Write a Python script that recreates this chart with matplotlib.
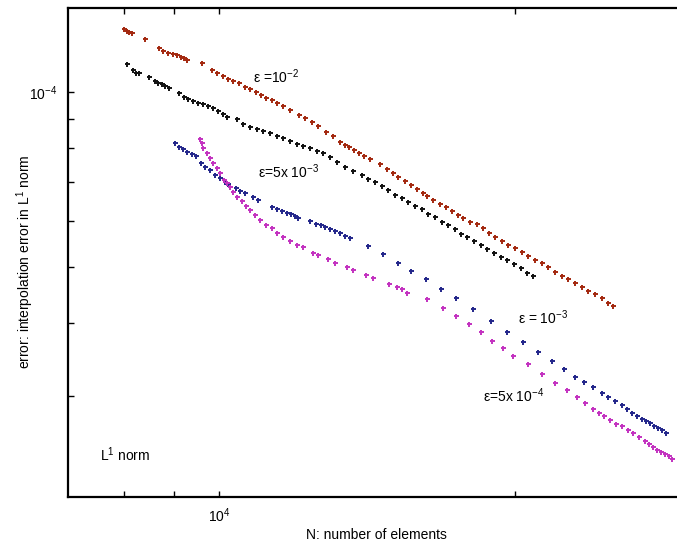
import numpy as np
import matplotlib
matplotlib.use("Agg")
import matplotlib.pyplot as plt
from matplotlib.ticker import FixedLocator, NullFormatter

plt.rcParams['font.family'] = ['Liberation Sans', 'DejaVu Sans']
plt.rcParams['mathtext.fontset'] = 'custom'
plt.rcParams['mathtext.rm'] = 'Liberation Sans'
plt.rcParams['mathtext.it'] = 'Liberation Sans:italic'
plt.rcParams['mathtext.bf'] = 'Liberation Sans:bold'

# N: number of elements, err: L1 interpolation error in units of 1e-5
red_n = [5940, 6040, 6105, 6207, 6665, 7197, 7356, 7560, 7772, 7943, 8120, 8254, 8390,
         9111, 9623, 9891, 10222, 10506, 10798, 11158, 11533, 11853, 12248, 12589, 12940,
         13373, 13746, 14204, 14757, 15505, 16024, 16648, 17205, 17977, 18679, 19412,
         19953, 20395, 20965, 21544, 22142, 22884, 24172, 25119, 25959, 26683, 27729,
         28651, 29610, 30600, 31280, 32325, 33590, 34710, 35870, 37068, 38107, 39600,
         41145, 42522, 43947, 45414, 47196, 48776, 50674, 52654, 54417, 56543, 58749,
         60717, 63096, 65573, 67766, 70404, 73155, 75600, 78560, 81627, 84353, 86700]
red_err = [12.84, 12.74, 12.69, 12.63, 12.34, 11.90, 11.76, 11.67, 11.62, 11.58, 11.49, 11.44, 11.35,
           11.22, 10.91, 10.78, 10.65, 10.53, 10.45, 10.36, 10.20, 10.12, 10.00, 9.88, 9.77,
           9.69, 9.57, 9.46, 9.31, 9.13, 9.02, 8.88, 8.74, 8.53, 8.40, 8.20,
           8.11, 8.04, 7.95, 7.85, 7.76, 7.67, 7.52, 7.37, 7.26, 7.14, 7.03,
           6.92, 6.81, 6.70, 6.62, 6.52, 6.42, 6.34, 6.24, 6.14, 6.07, 5.97,
           5.93, 5.83, 5.72, 5.63, 5.54, 5.45, 5.39, 5.30, 5.22, 5.14, 5.08,
           5.00, 4.90, 4.82, 4.77, 4.69, 4.62, 4.55, 4.49, 4.42, 4.33, 4.28]

black_n = [6040, 6241, 6345, 6450, 6813, 7040, 7157, 7316, 7438, 7603, 8031, 8254, 8437,
           8670, 8913, 9161, 9414, 9676, 9945, 10222, 10447, 11035, 11407, 11853, 12316,
           12730, 13227, 13746, 14204, 14757, 15335, 15849, 16469, 17113, 17686, 18378,
           19099, 19953, 20845, 21903, 22637, 23519, 24441, 25259, 26242, 27273, 28184,
           29286, 30432, 31456, 32686, 33963, 35097, 36468, 37687, 38950, 40470, 42054,
           43459, 45166, 46935, 48507, 50394, 52360, 54117, 55927]
black_err = [11.17, 10.91, 10.78, 10.78, 10.61, 10.45, 10.36, 10.32, 10.24, 10.16, 9.96, 9.80, 9.73,
             9.65, 9.57, 9.54, 9.46, 9.39, 9.27, 9.17, 9.06, 8.99, 8.81, 8.71, 8.64,
             8.57, 8.50, 8.40, 8.33, 8.24, 8.14, 8.08, 8.01, 7.92, 7.85, 7.73,
             7.58, 7.43, 7.31, 7.20, 7.08, 7.00, 6.89, 6.78, 6.65, 6.57, 6.47,
             6.37, 6.29, 6.17, 6.09, 5.97, 5.90, 5.81, 5.70, 5.63, 5.54, 5.45,
             5.37, 5.28, 5.20, 5.14, 5.06, 4.98, 4.88, 4.82]

blue_n = [7855, 8031, 8209, 8390, 8623, 8814, 9061, 9261, 9519, 9783, 10055, 10335, 10506,
          10976, 11220, 11533, 12050, 12384, 13373, 13746, 14125, 14517, 14839, 15170, 15421,
          16469, 17022, 17495, 17880, 18378, 18888, 19412, 19953, 20507,
          22637, 24578, 26683, 28651, 31109, 33776, 36669, 40251, 44434, 48507, 52944,
          57480, 62069, 66293, 70404, 73961, 77714, 81627, 84353, 87660, 91110, 93640,
          96235, 98900, 101650, 103920, 106220, 108570, 110970, 113430, 115940]
blue_err = [8.17, 8.04, 7.98, 7.88, 7.82, 7.76, 7.55, 7.43, 7.34, 7.20, 7.11, 7.00, 6.95,
            6.84, 6.76, 6.70, 6.60, 6.52, 6.34, 6.29, 6.24, 6.19, 6.17, 6.12, 6.07,
            6.00, 5.93, 5.90, 5.86, 5.81, 5.76, 5.72, 5.65, 5.61,
            5.43, 5.26, 5.08, 4.92, 4.77, 4.58, 4.42, 4.23, 4.04, 3.86, 3.71,
            3.57, 3.44, 3.34, 3.23, 3.17, 3.11, 3.03, 2.99, 2.94, 2.89, 2.85,
            2.80, 2.77, 2.74, 2.71, 2.69, 2.66, 2.64, 2.62, 2.59]

magenta_n = [9011, 9111, 9161, 9363, 9519, 9676, 9891, 10055, 10278, 10447, 10622, 10798,
             11035, 11345, 11595, 11853, 12182, 12519, 12940, 13373, 13746, 14204, 14757,
             15335, 15849, 16740, 17205, 18174, 18888, 20174, 20845, 22387, 23263, 25400,
             26537, 27273, 28031,
             31280, 34145, 36669, 39380, 42054, 44668, 47456, 50119, 54417, 58749, 63096,
             67393, 71180, 74369, 77714, 80317, 82541, 85310, 88130, 91110, 94160, 96770,
             100000, 103350, 105640, 107980, 110350, 112830, 115300, 117850, 119820]
magenta_err = [8.30, 8.17, 8.01, 7.85, 7.70, 7.55, 7.40, 7.26, 7.06, 6.97, 6.86, 6.73,
               6.60, 6.49, 6.37, 6.27, 6.14, 6.02, 5.90, 5.83, 5.72, 5.63, 5.54,
               5.45, 5.41, 5.28, 5.24, 5.16, 5.08, 5.00, 4.94, 4.84, 4.79, 4.67,
               4.62, 4.58, 4.51,
               4.40, 4.25, 4.12, 3.99, 3.86, 3.73, 3.63, 3.51, 3.40, 3.27, 3.16,
               3.07, 2.99, 2.92, 2.85, 2.80, 2.77, 2.73, 2.68, 2.66, 2.62, 2.59,
               2.55, 2.51, 2.48, 2.45, 2.42, 2.40, 2.38, 2.36, 2.34]

err_unit = 1e-5

W, H = 677, 546
fig = plt.figure(figsize=(W / 100, H / 100), dpi=100)
ax = fig.add_axes([68 / W, 1 - 497 / H, 609 / W, 489 / H])

series = [
    (red_n, red_err, '#a3280f'),
    (black_n, black_err, '#111111'),
    (blue_n, blue_err, '#22268a'),
    (magenta_n, magenta_err, '#c331c0'),
]
for n, e, c in series:
    ax.plot(n, np.array(e) * err_unit, linestyle='none', marker='+',
            markersize=3.6, markeredgewidth=1.4, color=c)

ax.set_xscale('log')
ax.set_yscale('log')
ax.set_xlim(4371, 123200)
ax.set_ylim(2.009e-5, 1.395e-4)

ax.xaxis.set_major_locator(FixedLocator([1e4]))
ax.set_xticklabels(['10$^{4}$'])
ax.xaxis.set_minor_locator(FixedLocator([5950, 7800, 50700]))
ax.xaxis.set_minor_formatter(NullFormatter())
ax.yaxis.set_major_locator(FixedLocator([1e-4]))
ax.set_yticklabels(['10$^{-4}$'])
ax.yaxis.set_minor_locator(FixedLocator([9e-5, 8e-5, 7e-5, 6e-5, 5e-5, 4e-5, 3e-5]))
ax.yaxis.set_minor_formatter(NullFormatter())
ax.tick_params(which='both', direction='in', top=True, right=False,
               length=4, width=1, labelsize=10)
ax.tick_params(axis='x', which='major', pad=7)
ax.tick_params(axis='y', which='major', pad=8)

for side in ['left', 'bottom', 'top']:
    ax.spines[side].set_linewidth(1.6)
ax.spines['right'].set_visible(False)

fs = 10
fig.text(376 / W, 1 - 535 / H, 'N: number of elements', ha='center', va='center', fontsize=fs)
fig.text(25 / W, 1 - 262 / H, 'error: interpolation error in L$^{1}$ norm',
         ha='center', va='center', rotation=90, fontsize=fs)

fig.text(100 / W, 1 - 455 / H, 'L$^{1}$ norm', ha='left', va='center', fontsize=fs)
fig.text(253 / W, 1 - 77 / H, 'ε =10$^{-2}$', ha='left', va='center', fontsize=fs)
fig.text(258 / W, 1 - 172 / H, 'ε=5x 10$^{-3}$', ha='left', va='center', fontsize=fs)
fig.text(518 / W, 1 - 318 / H, 'ε = 10$^{-3}$', ha='left', va='center', fontsize=fs)
fig.text(483 / W, 1 - 396 / H, 'ε=5x 10$^{-4}$', ha='left', va='center', fontsize=fs)

fig.savefig('out.png', dpi=100)
